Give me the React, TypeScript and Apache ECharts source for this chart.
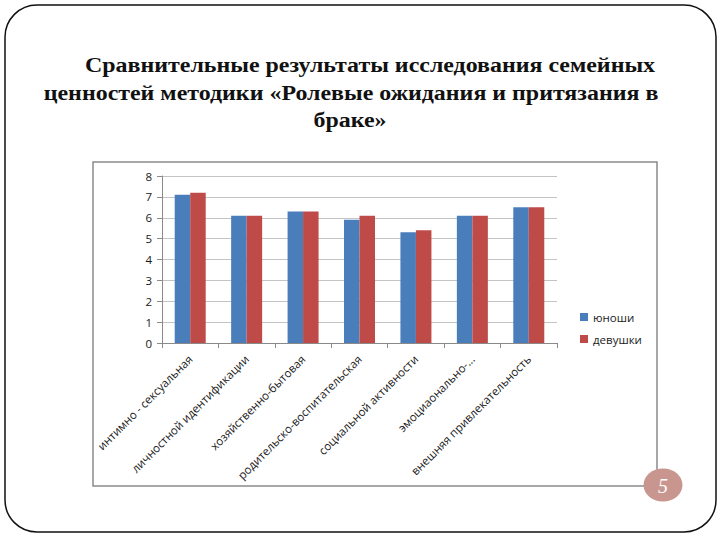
import React, { useEffect, useRef } from "react";
import * as echarts from "echarts";

const categories = [
  "интимно - сексуальная",
  "личностной идентификации",
  "хозяйственно-бытовая",
  "родительско-воспитательская",
  "социальной активности",
  "эмоциаонально-...",
  "внешняя привлекательность",
];
const boys = [7.1, 6.1, 6.3, 5.9, 5.3, 6.1, 6.5];
const girls = [7.2, 6.1, 6.3, 6.1, 5.4, 6.1, 6.5];
const seriesNames = ["юноши", "девушки"];
const yTicks = { min: 0, max: 8, interval: 1 };

export default function App() {
  const ref = useRef<HTMLDivElement>(null);
  useEffect(() => {
    const chart = echarts.init(ref.current!, null, { renderer: "svg" });
    const labelFont = "'Open Sans', 'Noto Sans', sans-serif";
    const titleFont = "'Liberation Serif', 'Times New Roman', serif";
    const titleStyle = (text: string, align: string) => ({
      text,
      font: `bold 21px ${titleFont}`,
      fill: "#111111",
      textAlign: align,
      textVerticalAlign: "middle",
    });
    chart.setOption({
      animation: false,
      backgroundColor: "#ffffff",
      graphic: [
        {
          type: "rect",
          shape: { x: 5, y: 5, width: 711, height: 527, r: 32 },
          style: { fill: "none", stroke: "#111111", lineWidth: 1.5 },
        },
        {
          type: "rect",
          shape: { x: 93, y: 162, width: 564, height: 324 },
          style: { fill: "none", stroke: "#8a8a8a", lineWidth: 1.5 },
        },
        {
          type: "text",
          x: 85,
          y: 65,
          scaleX: 1.14,
          style: titleStyle("Сравнительные результаты исследования семейных", "left"),
        },
        {
          type: "text",
          x: 351,
          y: 93,
          scaleX: 1.14,
          style: titleStyle("ценностей методики «Ролевые ожидания и притязания в", "center"),
        },
        {
          type: "text",
          x: 350,
          y: 120,
          scaleX: 1.14,
          style: titleStyle("браке»", "center"),
        },
        {
          type: "ellipse",
          shape: { cx: 663, cy: 485, rx: 19.5, ry: 16.5 },
          style: { fill: "#c9968f" },
        },
        {
          type: "text",
          x: 663,
          y: 486,
          style: {
            text: "5",
            font: `italic 20px ${titleFont}`,
            fill: "#ffffff",
            textAlign: "center",
            textVerticalAlign: "middle",
          },
        },
      ],
      grid: { left: 162, right: 163, top: 176, bottom: 197, containLabel: false },
      legend: {
        orient: "vertical",
        left: 575,
        top: 306,
        itemWidth: 8,
        itemHeight: 8,
        itemGap: 10,
        itemStyle: { borderWidth: 0 },
        icon: "rect",
        textStyle: { fontSize: 11.5, fontFamily: labelFont, color: "#1a1a1a" },
        data: seriesNames,
      },
      xAxis: {
        type: "category",
        data: categories,
        axisLine: { show: true, lineStyle: { color: "#8a8a8a" } },
        axisTick: { show: true, alignWithLabel: false, length: 5, lineStyle: { color: "#8a8a8a" } },
        axisLabel: {
          rotate: 45,
          interval: 0,
          margin: 14,
          fontSize: 11.5,
          fontFamily: labelFont,
          color: "#1a1a1a",
        },
      },
      yAxis: {
        type: "value",
        min: yTicks.min,
        max: yTicks.max,
        interval: yTicks.interval,
        axisLine: { show: true, lineStyle: { color: "#8a8a8a" } },
        axisTick: { show: true, length: 5, lineStyle: { color: "#8a8a8a" } },
        axisLabel: { fontSize: 11.5, fontFamily: labelFont, color: "#1a1a1a", margin: 10 },
        splitLine: { show: true, lineStyle: { color: "#c4c4c4" } },
      },
      series: [
        {
          name: seriesNames[0],
          type: "bar",
          data: boys,
          barWidth: 15.5,
          barGap: "0%",
          itemStyle: { color: "#4a7ebb" },
        },
        {
          name: seriesNames[1],
          type: "bar",
          data: girls,
          barWidth: 15.5,
          barGap: "0%",
          itemStyle: { color: "#be4b48" },
        },
      ],
    });
    return () => chart.dispose();
  }, []);
  return (
    <div
      ref={ref}
      style={{ position: "fixed", left: 0, top: 0, width: 720, height: 540 }}
    />
  );
}
